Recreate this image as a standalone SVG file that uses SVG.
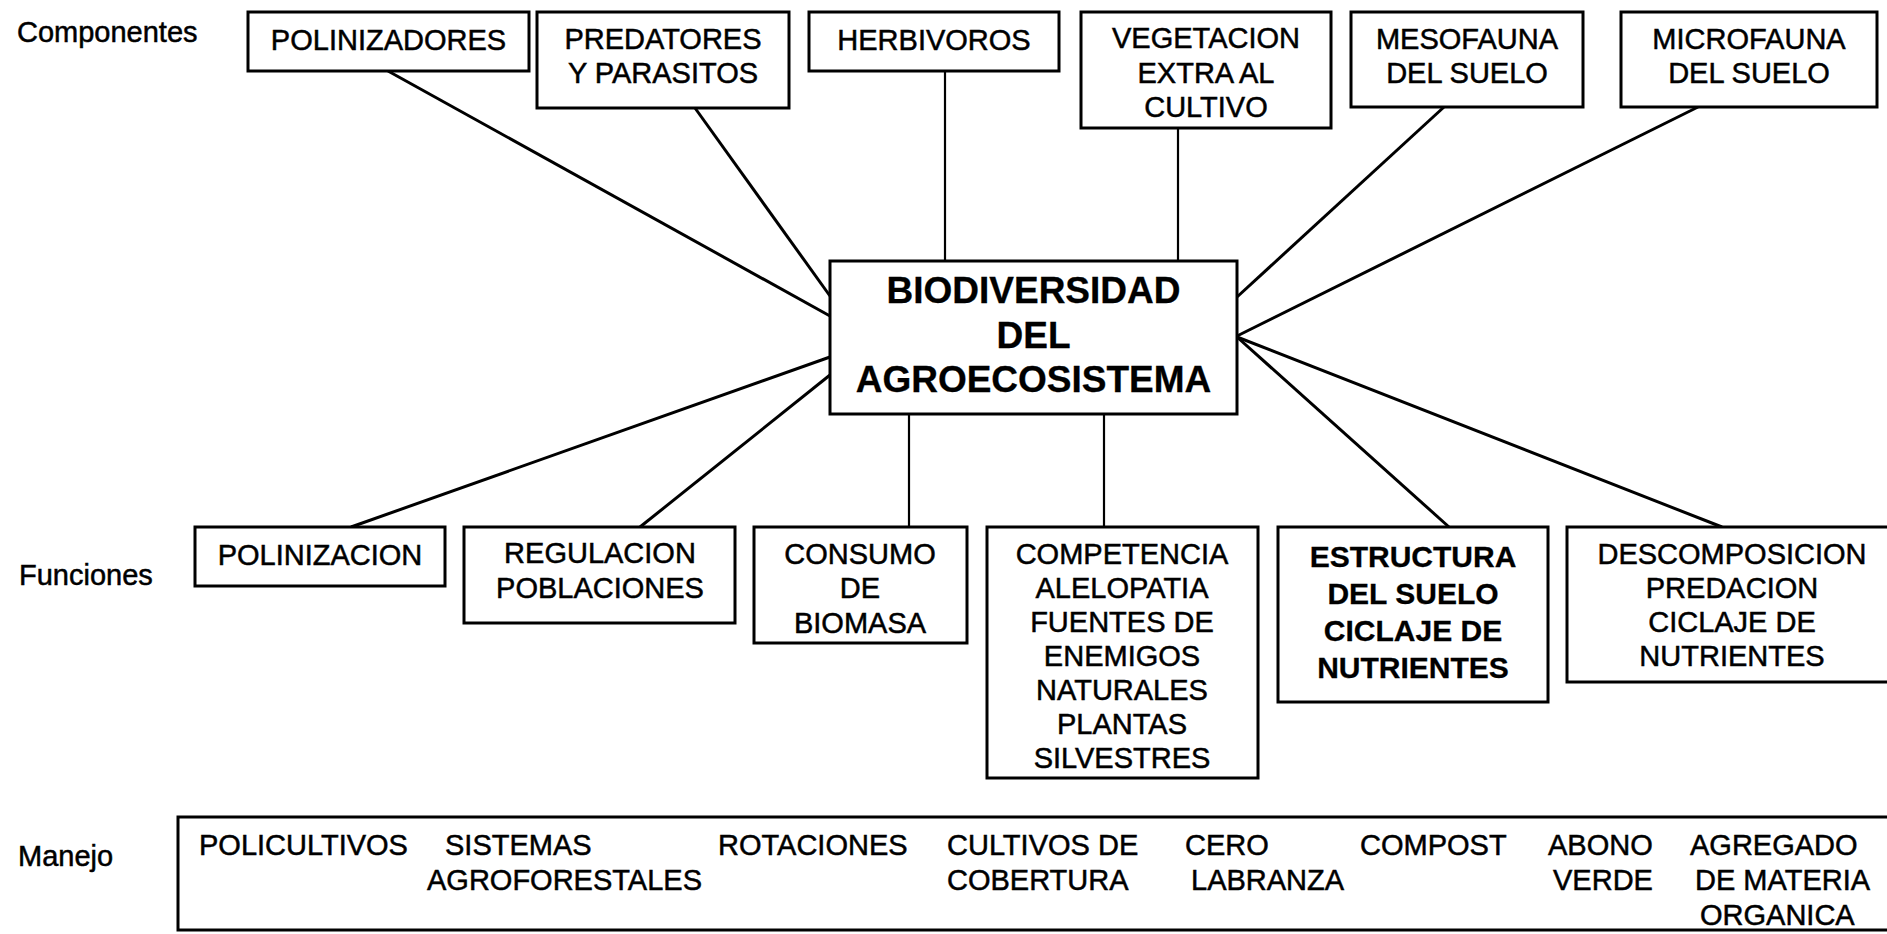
<svg xmlns="http://www.w3.org/2000/svg" width="1887" height="934" viewBox="0 0 1887 934">
<style>
.box{fill:#fff;stroke:#000;stroke-width:3}
.t{font-family:"Liberation Sans",Arial,sans-serif;font-size:29px;fill:#000;stroke:#000;stroke-width:0.5}
.c{text-anchor:middle}
.b{font-weight:bold;stroke-width:0.3}
.big{font-size:37px}
.bf{font-size:30px}
.ln{stroke:#000;stroke-width:3;fill:none}
.lv{stroke:#000;stroke-width:2.2;fill:none}
</style>
<rect x="0" y="0" width="1887" height="934" fill="#fff"/>
<g id="labels">
<text class="t" x="17" y="42">Componentes</text>
<text class="t" x="19" y="585">Funciones</text>
<text class="t" x="18" y="866">Manejo</text>
</g>
<g id="connectors">
<line class="ln" x1="388" y1="71" x2="830" y2="316"/>
<line class="ln" x1="695" y1="108" x2="830" y2="296"/>
<line class="lv" x1="945" y1="71" x2="945" y2="261"/>
<line class="lv" x1="1178" y1="128" x2="1178" y2="261"/>
<line class="ln" x1="1444" y1="107" x2="1237" y2="297"/>
<line class="ln" x1="1698" y1="107" x2="1237" y2="336"/>
<line class="ln" x1="351" y1="527" x2="830" y2="357"/>
<line class="ln" x1="640" y1="527" x2="830" y2="375"/>
<line class="lv" x1="909" y1="414" x2="909" y2="527"/>
<line class="lv" x1="1104" y1="414" x2="1104" y2="527"/>
<line class="ln" x1="1237" y1="337" x2="1449" y2="527"/>
<line class="ln" x1="1237" y1="337" x2="1722" y2="527"/>
</g>
<g id="polinizadores">
<rect class="box" x="248" y="12" width="281" height="59"/>
<text class="t c" x="388.5" y="50">POLINIZADORES</text>
</g>
<g id="predatores">
<rect class="box" x="537" y="12" width="252" height="96"/>
<text class="t c" x="663" y="49">PREDATORES</text>
<text class="t c" x="663" y="83">Y PARASITOS</text>
</g>
<g id="herbivoros">
<rect class="box" x="809" y="12" width="250" height="59"/>
<text class="t c" x="934" y="50">HERBIVOROS</text>
</g>
<g id="vegetacion">
<rect class="box" x="1081" y="12" width="250" height="116"/>
<text class="t c" x="1206" y="48">VEGETACION</text>
<text class="t c" x="1206" y="83">EXTRA AL</text>
<text class="t c" x="1206" y="117">CULTIVO</text>
</g>
<g id="mesofauna">
<rect class="box" x="1351" y="12" width="232" height="95"/>
<text class="t c" x="1467" y="49">MESOFAUNA</text>
<text class="t c" x="1467" y="83">DEL SUELO</text>
</g>
<g id="microfauna">
<rect class="box" x="1621" y="12" width="256" height="95"/>
<text class="t c" x="1749" y="49">MICROFAUNA</text>
<text class="t c" x="1749" y="83">DEL SUELO</text>
</g>
<g id="biodiversidad">
<rect class="box" x="830" y="261" width="407" height="153"/>
<text class="t c b big" x="1033.5" y="303">BIODIVERSIDAD</text>
<text class="t c b big" x="1033.5" y="348">DEL</text>
<text class="t c b big" x="1033.5" y="392">AGROECOSISTEMA</text>
</g>
<g id="polinizacion">
<rect class="box" x="195" y="527" width="250" height="59"/>
<text class="t c" x="320" y="565">POLINIZACION</text>
</g>
<g id="regulacion">
<rect class="box" x="464" y="527" width="271" height="96"/>
<text class="t c" x="600" y="563">REGULACION</text>
<text class="t c" x="600" y="598">POBLACIONES</text>
</g>
<g id="consumo">
<rect class="box" x="754" y="527" width="213" height="116"/>
<text class="t c" x="860" y="564">CONSUMO</text>
<text class="t c" x="860" y="598">DE</text>
<text class="t c" x="860" y="633">BIOMASA</text>
</g>
<g id="competencia">
<rect class="box" x="987" y="527" width="271" height="251"/>
<text class="t c" x="1122" y="564">COMPETENCIA</text>
<text class="t c" x="1122" y="598">ALELOPATIA</text>
<text class="t c" x="1122" y="632">FUENTES DE</text>
<text class="t c" x="1122" y="666">ENEMIGOS</text>
<text class="t c" x="1122" y="700">NATURALES</text>
<text class="t c" x="1122" y="734">PLANTAS</text>
<text class="t c" x="1122" y="768">SILVESTRES</text>
</g>
<g id="estructura">
<rect class="box" x="1278" y="527" width="270" height="175"/>
<text class="t c b bf" x="1413" y="567">ESTRUCTURA</text>
<text class="t c b bf" x="1413" y="604">DEL SUELO</text>
<text class="t c b bf" x="1413" y="641">CICLAJE DE</text>
<text class="t c b bf" x="1413" y="678">NUTRIENTES</text>
</g>
<g id="descomposicion">
<rect class="box" x="1567" y="527" width="340" height="155"/>
<text class="t c" x="1732" y="564">DESCOMPOSICION</text>
<text class="t c" x="1732" y="598">PREDACION</text>
<text class="t c" x="1732" y="632">CICLAJE DE</text>
<text class="t c" x="1732" y="666">NUTRIENTES</text>
</g>
<g id="manejo">
<rect class="box" x="178" y="817" width="1730" height="113"/>
<text class="t" x="199" y="855">POLICULTIVOS</text>
<text class="t" x="445" y="855">SISTEMAS</text>
<text class="t" x="427" y="890">AGROFORESTALES</text>
<text class="t" x="718" y="855">ROTACIONES</text>
<text class="t" x="947" y="855">CULTIVOS DE</text>
<text class="t" x="947" y="890">COBERTURA</text>
<text class="t" x="1185" y="855">CERO</text>
<text class="t" x="1191" y="890">LABRANZA</text>
<text class="t" x="1360" y="855">COMPOST</text>
<text class="t" x="1548" y="855">ABONO</text>
<text class="t" x="1553" y="890">VERDE</text>
<text class="t" x="1690" y="855">AGREGADO</text>
<text class="t" x="1695" y="890">DE MATERIA</text>
<text class="t" x="1700" y="925">ORGANICA</text>
</g>
</svg>
